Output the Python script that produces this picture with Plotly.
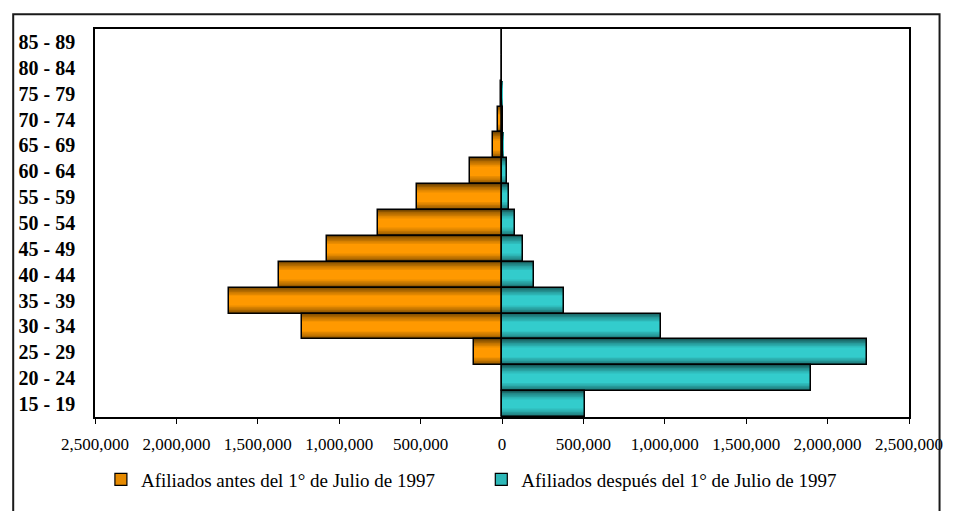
import numpy as np
import plotly.graph_objects as go

# Age groups, bottom to top
age_groups = ["15 - 19", "20 - 24", "25 - 29", "30 - 34", "35 - 39", "40 - 44",
              "45 - 49", "50 - 54", "55 - 59", "60 - 64", "65 - 69", "70 - 74",
              "75 - 79", "80 - 84", "85 - 89"]

# Affiliates enrolled before 1 July 1997 (drawn to the left)
before_1997 = [0, 1500, 174000, 1227000, 1679000, 1372000, 1073000, 760000,
               525000, 198000, 54000, 22000, 9000, 1500, 500]

# Affiliates enrolled after 1 July 1997 (drawn to the right)
after_1997 = [507000, 1897000, 2242000, 977000, 380000, 198000, 129000, 81000,
              44000, 28000, 7000, 4000, 1000, 0, 0]

x_tick_values = [-2500000, -2000000, -1500000, -1000000, -500000, 0,
                 500000, 1000000, 1500000, 2000000, 2500000]
x_tick_labels = ["2,500,000", "2,000,000", "1,500,000", "1,000,000", "500,000", "0",
                 "500,000", "1,000,000", "1,500,000", "2,000,000", "2,500,000"]

name_before = "Afiliados antes del 1° de Julio de 1997"
name_after = "Afiliados después del 1° de Julio de 1997"

ORANGE = (255, 153, 0)
TEAL = (51, 204, 204)
SERIF = "Liberation Serif, Times New Roman, serif"


def shade(rgb, f):
    return "rgb(%d,%d,%d)" % tuple(int(round(c * f)) for c in rgb)


fig = go.Figure()

# Banded gradient: nested bars, darker at the outer edges, bright in the middle
n_layers = 12
series = [(before_1997, -1, ORANGE), (after_1997, 1, TEAL)]
for values, sign, rgb in series:
    xs = [sign * v for v in values]
    for k in range(n_layers):
        t = k / (n_layers - 1)
        fig.add_trace(go.Bar(
            x=xs, y=age_groups, orientation="h",
            width=1.0 - 0.06 * k,
            marker=dict(color=shade(rgb, 0.45 + 0.55 * t ** 0.75), line=dict(width=0)),
            showlegend=False, hoverinfo="skip",
        ))
    # black outline on top
    fig.add_trace(go.Bar(
        x=xs, y=age_groups, orientation="h", width=1.0,
        marker=dict(color="rgba(0,0,0,0)", line=dict(color="black", width=1.5)),
        showlegend=False, hoverinfo="skip",
    ))

# Legend entries
fig.add_trace(go.Bar(x=[None], y=[None], orientation="h", name=name_before,
                     marker=dict(color=shade(ORANGE, 0.9), line=dict(color="black", width=1.2)),
                     legend="legend"))
fig.add_trace(go.Bar(x=[None], y=[None], orientation="h", name=name_after,
                     marker=dict(color=shade(TEAL, 0.9), line=dict(color="black", width=1.2)),
                     legend="legend2"))

W, H = 955, 511
L, R, T, B = 95, 34, 29, 85
pw, ph = W - L - R, H - T - B


def px_x(px):
    return (px - L) / pw


def px_y(py):
    return (H - B - py) / ph


fig.update_layout(
    width=W, height=H,
    margin=dict(l=L, r=R, t=T, b=B),
    paper_bgcolor="white", plot_bgcolor="white",
    barmode="overlay", bargap=0,
    font=dict(family=SERIF, color="black"),
    xaxis=dict(
        range=[-2500000, 2500000], tickvals=x_tick_values, ticktext=x_tick_labels,
        showgrid=False, zeroline=False,
        showline=True, linecolor="black", linewidth=1.5, mirror=True,
        ticks="outside", ticklen=5, tickcolor="black", tickwidth=1,
        tickfont=dict(family=SERIF, size=17, color="black"),
        ticklabelstandoff=6,
    ),
    yaxis=dict(
        type="category", categoryorder="array", categoryarray=age_groups,
        range=[-0.5, len(age_groups) - 0.5],
        showgrid=False, zeroline=False,
        showline=True, linecolor="black", linewidth=1.5, mirror=True,
        ticks="", tickfont=dict(family=SERIF, size=20, color="black", weight="bold"),
        ticklabelstandoff=14,
    ),
    # category axis crossing at zero, ticks at centres and boundaries
    yaxis2=dict(
        overlaying="y", anchor="free", position=0.5, side="left",
        range=[-0.5, len(age_groups) - 0.5],
        tickvals=list(np.arange(-0.5, len(age_groups), 0.5)),
        showticklabels=False, showgrid=False, zeroline=False,
        showline=True, linecolor="#7f7f7f", linewidth=1,
        ticks="outside", ticklen=5, tickcolor="#222222", tickwidth=1,
    ),
    legend=dict(
        x=px_x(101), y=px_y(490), xanchor="left", yanchor="middle",
        orientation="h", bgcolor="rgba(0,0,0,0)",
        font=dict(family=SERIF, size=19, color="black"),
    ),
    legend2=dict(
        x=px_x(487), y=px_y(490), xanchor="left", yanchor="middle",
        orientation="h", bgcolor="rgba(0,0,0,0)",
        font=dict(family=SERIF, size=19, color="black"),
    ),
    shapes=[dict(
        type="rect", xref="paper", yref="paper",
        x0=px_x(12), x1=px_x(952), y0=-0.5, y1=px_y(14),
        line=dict(color="#1a1a1a", width=2), fillcolor="rgba(0,0,0,0)", layer="above",
    )],
)

fig.write_html("out.html")
